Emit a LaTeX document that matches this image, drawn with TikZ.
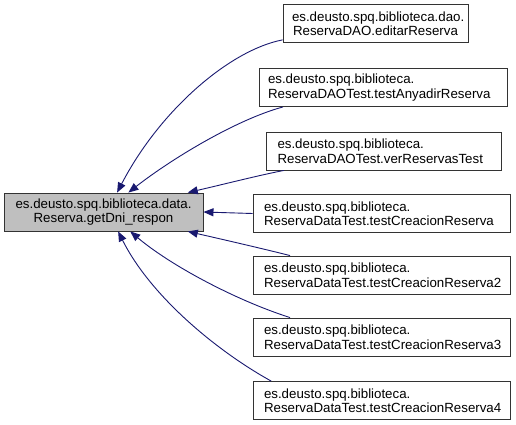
\documentclass[tikz,border=0pt]{standalone}
\usepackage{fontspec}
\setmainfont{Liberation Sans}
\usepackage{tikz}
\usetikzlibrary{arrows.meta}
\definecolor{midnightblue}{HTML}{191970}

\tikzset{
  fnbox/.style={draw=black!80, fill=white, line width=0.9pt, inner xsep=9pt, inner ysep=0pt, minimum height=38pt, align=left},
  calledfn/.style={fnbox, fill=black!25, align=center},
  callline/.style={draw=midnightblue, line width=0.9pt, -{Triangle[length=10pt,width=8pt]}}
}

\begin{document}
\begin{tikzpicture}[x=1pt,y=-1pt,font=\fontsize{13.3}{14.5}\selectfont]
  \useasboundingbox (0,0) rectangle (516,425);

  \node[calledfn, text width=181pt] (getdni) at (103.5,212) {es.deusto.spq.biblioteca.data.\\Reserva.getDni\_respon};

  \node[fnbox, align=center, text width=167pt] (editar) at (375.5,23.5) {es.deusto.spq.biblioteca.dao.\\ReservaDAO.editarReserva};
  \node[fnbox, text width=230pt] (anyadir) at (383,87.5) {es.deusto.spq.biblioteca.\\ReservaDAOTest.testAnyadirReserva};
  \node[fnbox, inner xsep=11pt, text width=213pt] (verres) at (384,151) {es.deusto.spq.biblioteca.\\ReservaDAOTest.verReservasTest};
  \foreach \yy/\name/\suffix in {213.5/creacion1/{}, 275/creacion2/2, 337/creacion3/3, 400.5/creacion4/4} {
    \node[fnbox, inner xsep=11pt, text width=235pt] (\name) at (381.5,\yy) {es.deusto.spq.biblioteca.\\ReservaDataTest.testCreacionReserva\suffix};
  }

  % callers -> getDni_respon
  \draw[callline] (editar.190) .. controls (230,50) and (160,110) .. (getdni.55);
  \draw[callline] (anyadir.191) .. controls (235,120) and (170,160) .. (getdni.38);
  \draw[callline] (verres.191) .. controls (260,175) and (225,184) .. (getdni.13);
  \draw[callline] (creacion1.west) -- (getdni.east);
  \draw[callline] (creacion2.168) .. controls (260,248) and (225,240) .. (getdni.-13);
  \draw[callline] (creacion3.168) .. controls (235,300) and (170,265) .. (getdni.-36);
  \draw[callline] (creacion4.170) .. controls (215,350) and (150,295) .. (getdni.-53);
\end{tikzpicture}
\end{document}
